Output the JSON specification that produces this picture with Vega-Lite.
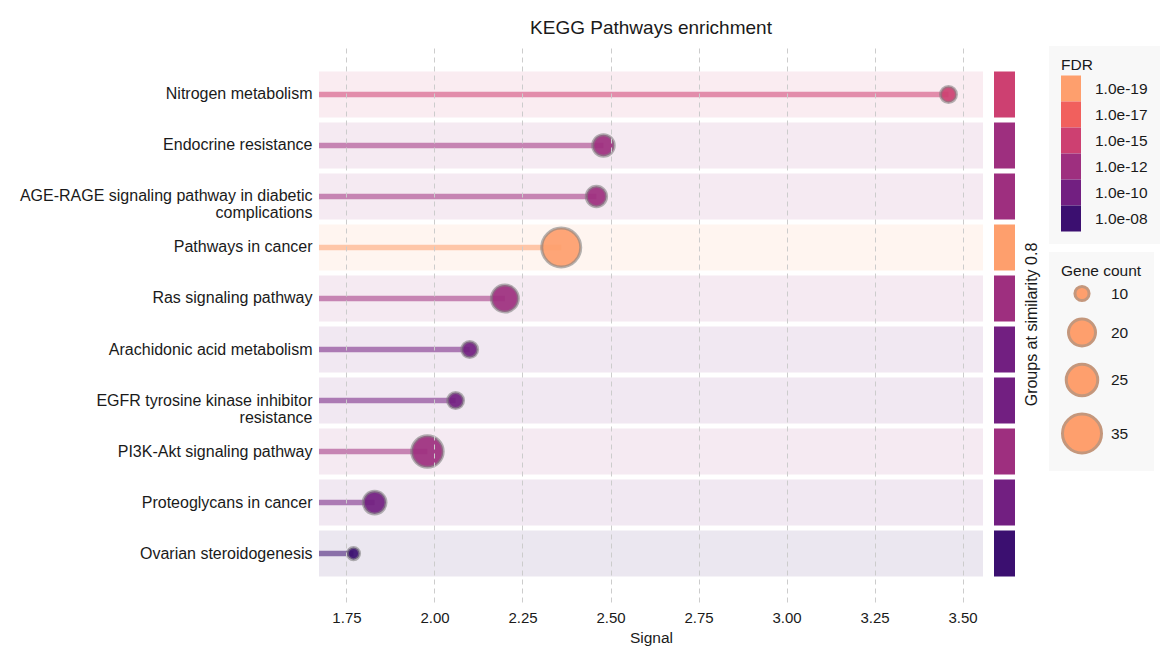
{
  "$schema": "https://vega.github.io/schema/vega-lite/v6.json",
  "background": "white",
  "padding": {"left": 19, "top": 19, "right": 5, "bottom": 5},
  "config": {
    "font": "Liberation Sans",
    "view": {"stroke": null},
    "concat": {"spacing": 11},
    "legend": {"titleFontSize": 15.5, "titleFontWeight": "normal", "titleColor": "#1a1a1a", "labelFontSize": 15.5, "labelColor": "#1a1a1a", "fillColor": "#f8f8f8", "padding": 12, "offset": 10}
  },
  "datasets": {
    "kegg": [
      {"pathway": "Nitrogen metabolism", "signal": 3.46, "count": 11, "fdr": 1e-15},
      {"pathway": "Endocrine resistance", "signal": 2.48, "count": 15, "fdr": 1e-12},
      {"pathway": "AGE-RAGE signaling pathway in diabetic\ncomplications", "signal": 2.46, "count": 14, "fdr": 1e-12},
      {"pathway": "Pathways in cancer", "signal": 2.36, "count": 35, "fdr": 1e-19},
      {"pathway": "Ras signaling pathway", "signal": 2.20, "count": 20, "fdr": 1e-12},
      {"pathway": "Arachidonic acid metabolism", "signal": 2.10, "count": 11, "fdr": 1e-10},
      {"pathway": "EGFR tyrosine kinase inhibitor\nresistance", "signal": 2.06, "count": 11, "fdr": 1e-10},
      {"pathway": "PI3K-Akt signaling pathway", "signal": 1.98, "count": 25, "fdr": 1e-12},
      {"pathway": "Proteoglycans in cancer", "signal": 1.83, "count": 16, "fdr": 1e-10},
      {"pathway": "Ovarian steroidogenesis", "signal": 1.77, "count": 9, "fdr": 1e-8}
    ]
  },
  "data": {"name": "kegg"},
  "hconcat": [
    {
      "width": 664,
      "height": 556,
      "title": {"text": "KEGG Pathways enrichment", "fontSize": 19, "fontWeight": "normal", "color": "#1a1a1a", "frame": "group", "anchor": "middle", "offset": 8},
      "encoding": {
        "y": {
          "field": "pathway", "type": "nominal", "sort": null,
          "scale": {"paddingInner": 0.1, "paddingOuter": 0.5},
          "axis": {"title": null, "ticks": false, "domain": false, "grid": false, "labelFontSize": 16, "labelColor": "#1a1a1a", "labelPadding": 7, "labelLimit": 500, "labelLineHeight": 17, "labelExpr": "split(datum.value, '\\n')"}
        }
      },
      "layer": [
        {
          "mark": {"type": "rect", "opacity": 0.1},
          "encoding": {
            "x": {"datum": 1.672, "type": "quantitative", "title": "Signal"},
            "x2": {"datum": 3.558},
            "color": {"field": "fdr", "type": "ordinal", "title": "FDR",
              "scale": {"domain": [1e-19, 1e-17, 1e-15, 1e-12, 1e-10, 1e-8], "range": ["#fe9f6d", "#f1605d", "#cd4071", "#9e2f7f", "#721f81", "#3b0f70"]},
              "legend": {"labelExpr": "datum.value > 5e-9 ? '1.0e-08' : format(datum.value, '.1e')", "symbolType": "M-1,-1.3H1V1.3H-1Z", "symbolSize": 400, "symbolOpacity": 1, "symbolStrokeWidth": 0, "rowPadding": 0, "labelOffset": 14}}
          }
        },
        {
          "mark": {"type": "rule", "strokeWidth": 5.5, "opacity": 0.55},
          "encoding": {
            "x": {"field": "signal", "type": "quantitative", "title": "Signal"},
            "x2": {"datum": 1.672},
            "color": {"field": "fdr", "type": "ordinal", "title": "FDR",
              "scale": {"domain": [1e-19, 1e-17, 1e-15, 1e-12, 1e-10, 1e-8], "range": ["#fe9f6d", "#f1605d", "#cd4071", "#9e2f7f", "#721f81", "#3b0f70"]},
              "legend": {"labelExpr": "datum.value > 5e-9 ? '1.0e-08' : format(datum.value, '.1e')", "symbolType": "M-1,-1.3H1V1.3H-1Z", "symbolSize": 400, "symbolOpacity": 1, "symbolStrokeWidth": 0, "rowPadding": 0, "labelOffset": 14}}
          }
        },
        {
          "mark": {"type": "circle", "opacity": 0.92, "stroke": "#7a7a7a", "strokeWidth": 3, "strokeOpacity": 0.6},
          "encoding": {
            "x": {"field": "signal", "type": "quantitative", "title": "Signal",
              "scale": {"domain": [1.672, 3.558], "nice": false, "zero": false},
              "axis": {"values": [1.75, 2.0, 2.25, 2.5, 2.75, 3.0, 3.25, 3.5], "format": ".2f", "ticks": false, "domain": false, "grid": true, "gridDash": [5, 4], "gridColor": "#cccccc", "gridWidth": 1, "zindex": 1, "labelFontSize": 15, "labelColor": "#1a1a1a", "labelPadding": 8, "titleFontSize": 15.5, "titleFontWeight": "normal", "titleColor": "#1a1a1a", "titlePadding": 5}},
            "size": {"field": "count", "type": "quantitative", "title": "Gene count",
              "scale": {"domain": [10, 35], "range": [201, 1521], "zero": false},
              "legend": {"values": [10, 20, 25, 35], "symbolFillColor": "#fe9f6d", "symbolStrokeColor": "#c4977c", "symbolStrokeWidth": 3, "symbolOpacity": 1, "rowPadding": 5, "labelOffset": 8}},
            "color": {"field": "fdr", "type": "ordinal", "title": "FDR",
              "scale": {"domain": [1e-19, 1e-17, 1e-15, 1e-12, 1e-10, 1e-8], "range": ["#fe9f6d", "#f1605d", "#cd4071", "#9e2f7f", "#721f81", "#3b0f70"]},
              "legend": {"labelExpr": "datum.value > 5e-9 ? '1.0e-08' : format(datum.value, '.1e')", "symbolType": "M-1,-1.3H1V1.3H-1Z", "symbolSize": 400, "symbolOpacity": 1, "symbolStrokeWidth": 0, "rowPadding": 0, "labelOffset": 14}}
          }
        }
      ]
    },
    {
      "width": 21,
      "height": 556,
      "mark": {"type": "rect"},
      "encoding": {
        "y": {
          "field": "pathway", "type": "nominal", "sort": null,
          "scale": {"paddingInner": 0.1, "paddingOuter": 0.5},
          "axis": {"orient": "right", "labels": false, "ticks": false, "domain": false, "grid": false, "title": "Groups at similarity 0.8", "titleAngle": 270, "titleBaseline": "top", "titleFontSize": 16, "titleFontWeight": "normal", "titleColor": "#1a1a1a", "titlePadding": 8}
        },
        "color": {"field": "fdr", "type": "ordinal", "title": "FDR",
          "scale": {"domain": [1e-19, 1e-17, 1e-15, 1e-12, 1e-10, 1e-8], "range": ["#fe9f6d", "#f1605d", "#cd4071", "#9e2f7f", "#721f81", "#3b0f70"]},
          "legend": {"labelExpr": "datum.value > 5e-9 ? '1.0e-08' : format(datum.value, '.1e')", "symbolType": "M-1,-1.3H1V1.3H-1Z", "symbolSize": 400, "symbolOpacity": 1, "symbolStrokeWidth": 0, "rowPadding": 0, "labelOffset": 14}}
      }
    }
  ]
}
